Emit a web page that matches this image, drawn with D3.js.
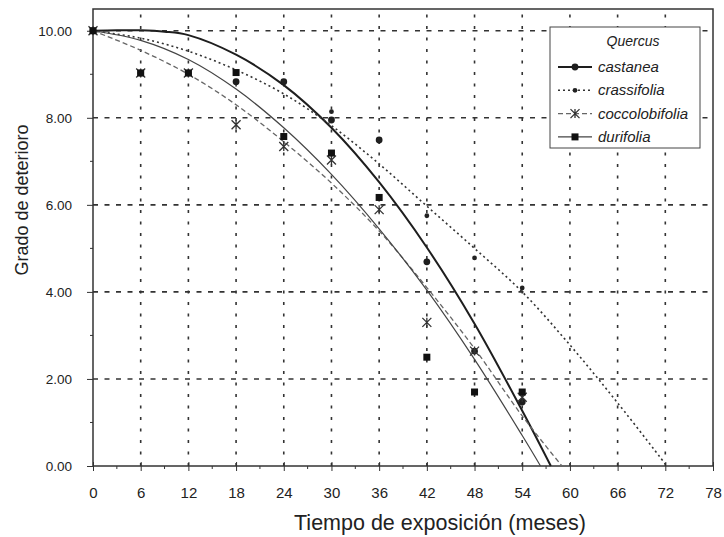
<!DOCTYPE html>
<html>
<head>
<meta charset="utf-8">
<script src="https://cdnjs.cloudflare.com/ajax/libs/d3/7.8.5/d3.min.js"></script>
<style>
	html, body { margin: 0; padding: 0; background: #fff; }
	svg { display: block; font-family: 'Liberation Sans', Arial, sans-serif; }
</style>
</head>
<body>
<div id="chart"></div>
<script>
// Observed values (months of exposure)
var months = [0, 6, 12, 18, 24, 30, 36, 42, 48, 54];
var castaneaObs = [10, 9.03, 9.03, 8.83, 8.83, 7.95, 7.49, 4.69, 2.64, 1.47];
var crassifoliaObs = [10, 9.03, 9.03, 9.04, 8.83, 8.14, 7.49, 5.75, 4.78, 4.09];
var coccolobifoliaObs = [10, 9.03, 9.03, 7.84, 7.34, 7.03, 5.89, 3.30, 2.64, 1.58];
var durifoliaObs = [10, 9.03, 9.03, 9.04, 7.57, 7.19, 6.17, 2.50, 1.70, 1.70];

// Fitted curves
var castaneaFitT = [0, 3, 6, 9, 12, 18, 24, 30, 36, 42, 48, 54, 57.6];
var castaneaFit = [10, 10.01, 10.01, 9.98, 9.9, 9.45, 8.75, 7.77, 6.52, 5.02, 3.27, 1.27, 0];
var crassifoliaFitT = [0, 6, 12, 18, 24, 30, 36, 42, 48, 54, 60, 66, 72.2];
var crassifoliaFit = [10, 9.83, 9.53, 9.1, 8.55, 7.82, 6.94, 5.97, 5.0, 4.0, 2.78, 1.45, 0];
var coccolobifoliaFitT = [0, 6, 12, 18, 24, 30, 36, 42, 48, 54, 59];
var coccolobifoliaFit = [10, 9.55, 9.0, 8.3, 7.45, 6.5, 5.4, 4.1, 2.7, 1.15, 0];
var durifoliaFitT = [0, 6, 12, 18, 24, 30, 36, 42, 48, 54, 56.3];
var durifoliaFit = [10, 9.78, 9.34, 8.66, 7.77, 6.7, 5.45, 4.04, 2.45, 0.7, 0];

var xTicks = d3.range(0, 79, 6);
var yTicks = [0, 2, 4, 6, 8, 10];

var series = [
	{name: 'castanea', obs: castaneaObs, fitT: castaneaFitT, fit: castaneaFit,
		stroke: '#1e1e1e', width: 2, dash: null, marker: 'circle'},
	{name: 'crassifolia', obs: crassifoliaObs, fitT: crassifoliaFitT, fit: crassifoliaFit,
		stroke: '#333', width: 1.6, dash: '2,3', marker: 'dot'},
	{name: 'coccolobifolia', obs: coccolobifoliaObs, fitT: coccolobifoliaFitT, fit: coccolobifoliaFit,
		stroke: '#666', width: 1.3, dash: '5,3', marker: 'star'},
	{name: 'durifolia', obs: durifoliaObs, fitT: durifoliaFitT, fit: durifoliaFit,
		stroke: '#444', width: 1.2, dash: null, marker: 'square'}
];

var W = 724, H = 537;
var margin = {left: 93, top: 9, right: 11, bottom: 71};
var width = W - margin.left - margin.right;
var height = H - margin.top - margin.bottom;

var svg = d3.select('#chart')
	.append('svg')
	.attr('width', W)
	.attr('height', H);

var x = d3.scaleLinear().domain([0, 78]).range([margin.left, margin.left + width]);
var y = d3.scaleLinear().domain([0, 10.5]).range([margin.top + height, margin.top]);

// Grid
svg.append('g').selectAll('line')
	.data(xTicks.filter(function(d) { return d > 0 && d < 78; }))
	.enter().append('line')
	.attr('x1', function(d) { return x(d); })
	.attr('x2', function(d) { return x(d); })
	.attr('y1', y(0))
	.attr('y2', margin.top)
	.style('stroke', '#333')
	.style('stroke-width', 1.6)
	.style('stroke-dasharray', '3,8.5');

svg.append('g').selectAll('line')
	.data(yTicks.filter(function(d) { return d > 0; }))
	.enter().append('line')
	.attr('x1', x(0))
	.attr('x2', x(78))
	.attr('y1', function(d) { return y(d); })
	.attr('y2', function(d) { return y(d); })
	.style('stroke', '#333')
	.style('stroke-width', 1.6)
	.style('stroke-dasharray', '5,6.5');

// Axes
var xAxis = d3.axisBottom(x).tickValues(xTicks).tickSize(5).tickFormat(d3.format('d'));
var yAxis = d3.axisLeft(y).tickValues(yTicks).tickSize(6).tickFormat(d3.format('.2f'));

var gx = svg.append('g').attr('class', 'axis')
	.attr('transform', 'translate(0,' + y(0) + ')')
	.call(xAxis);
gx.selectAll('.tick line').attr('y1', -4);
gx.selectAll('.tick text').attr('y', 21).attr('dy', '0.71em').style('font-size', '15px');

// minor ticks
svg.append('g').selectAll('line')
	.data(d3.range(3, 78, 6))
	.enter().append('line')
	.attr('x1', function(d) { return x(d); })
	.attr('x2', function(d) { return x(d); })
	.attr('y1', y(0))
	.attr('y2', y(0) + 3)
	.style('stroke', '#333');
svg.append('g').selectAll('line')
	.data(d3.range(1, 10.5, 2))
	.enter().append('line')
	.attr('x1', x(0) - 3)
	.attr('x2', x(0))
	.attr('y1', function(d) { return y(d); })
	.attr('y2', function(d) { return y(d); })
	.style('stroke', '#333');

var gy = svg.append('g').attr('class', 'axis')
	.attr('transform', 'translate(' + x(0) + ',0)')
	.call(yAxis);
gy.selectAll('.tick text').attr('x', -21).style('font-size', '13.5px');

svg.selectAll('.axis path').style('stroke', 'none');
svg.selectAll('.axis .tick line').style('stroke', '#333').style('stroke-width', 1);
svg.selectAll('.axis text').style('fill', '#222').style('font-family', "'Liberation Sans', Arial, sans-serif");

// Frame
svg.append('rect')
	.attr('x', x(0))
	.attr('y', margin.top)
	.attr('width', width)
	.attr('height', height)
	.style('fill', 'none')
	.style('stroke', '#333')
	.style('stroke-width', 1.5);

// Fitted curves
var line = d3.line()
	.x(function(d) { return x(d[0]); })
	.y(function(d) { return y(d[1]); })
	.curve(d3.curveCatmullRom.alpha(0.5));

series.forEach(function(s) {
	svg.append('path')
		.datum(d3.zip(s.fitT, s.fit))
		.attr('d', line)
		.style('fill', 'none')
		.style('stroke', s.stroke)
		.style('stroke-width', s.width)
		.style('stroke-dasharray', s.dash);
});

function drawMarker(g, type, cx, cy) {
	if (type === 'circle') {
		g.append('circle').attr('cx', cx).attr('cy', cy).attr('r', 3.4).style('fill', '#1e1e1e');
	} else if (type === 'dot') {
		g.append('circle').attr('cx', cx).attr('cy', cy).attr('r', 2.4).style('fill', '#222');
	} else if (type === 'square') {
		g.append('rect').attr('x', cx - 3.5).attr('y', cy - 3.5).attr('width', 7).attr('height', 7).style('fill', '#111');
	} else {
		var r = 4.5;
		g.append('path')
			.attr('d', 'M' + (cx - r) + ',' + (cy - r) + 'L' + (cx + r) + ',' + (cy + r) +
				'M' + (cx - r) + ',' + (cy + r) + 'L' + (cx + r) + ',' + (cy - r) +
				'M' + cx + ',' + (cy - r) + 'L' + cx + ',' + (cy + r))
			.style('stroke', '#333')
			.style('stroke-width', 1.3);
	}
}

// Observations
series.forEach(function(s) {
	var g = svg.append('g');
	months.forEach(function(m, i) {
		drawMarker(g, s.marker, x(m), y(s.obs[i]));
	});
});

// Axis titles
svg.append('text')
	.attr('x', 440)
	.attr('y', 530)
	.attr('text-anchor', 'middle')
	.style('font-size', '21.5px')
	.style('fill', '#222')
	.text('Tiempo de exposición (meses)');

svg.append('text')
	.attr('transform', 'translate(28,200) rotate(-90)')
	.attr('text-anchor', 'middle')
	.style('font-size', '18px')
	.style('fill', '#222')
	.text('Grado de deterioro');

// Legend
var legend = svg.append('g');
legend.append('rect')
	.attr('x', 550).attr('y', 27)
	.attr('width', 150).attr('height', 121)
	.style('fill', '#fff')
	.style('stroke', '#444')
	.style('stroke-width', 1);
legend.append('text')
	.attr('x', 633).attr('y', 46)
	.attr('text-anchor', 'middle')
	.style('font-size', '14px')
	.style('font-style', 'italic')
	.style('fill', '#222')
	.text('Quercus');

series.forEach(function(s, i) {
	var ly = 67 + i * 23.3;
	legend.append('line')
		.attr('x1', 558).attr('x2', 592)
		.attr('y1', ly).attr('y2', ly)
		.style('stroke', s.stroke)
		.style('stroke-width', s.width)
		.style('stroke-dasharray', s.dash);
	drawMarker(legend, s.marker, 575, ly);
	legend.append('text')
		.attr('x', 598).attr('y', ly + 5)
		.style('font-size', '15px')
		.style('font-style', 'italic')
		.style('fill', '#222')
		.text(s.name);
});
</script>
</body>
</html>
